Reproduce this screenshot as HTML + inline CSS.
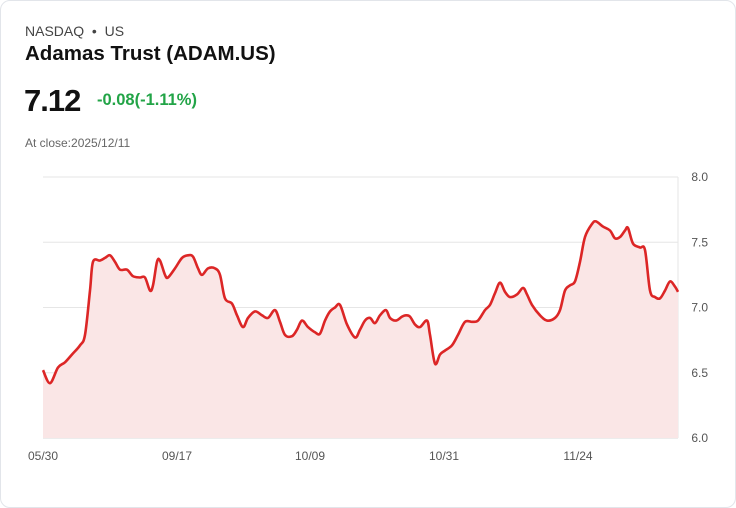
<!DOCTYPE html>
<html><head><meta charset="utf-8"><style>
body{margin:0;width:736px;height:508px;background:#fff;font-family:"Liberation Sans",sans-serif;}
.card{position:absolute;left:0;top:0;width:734px;height:506px;border:1px solid #e2e5ea;border-radius:10px;}
.t{position:absolute;white-space:nowrap;}
</style></head><body>
<div class="card"></div>
<div class="t" style="left:25px;top:23px;font-size:14px;color:#444;">NASDAQ &nbsp;•&nbsp; US</div>
<div class="t" style="left:25px;top:42px;font-size:20.5px;font-weight:bold;color:#111;">Adamas Trust (ADAM.US)</div>
<div class="t" style="left:24px;top:83px;font-size:31px;font-weight:bold;color:#111;letter-spacing:-1px;">7.12</div>
<div class="t" style="left:97px;top:91px;font-size:16.5px;font-weight:bold;color:#22a447;">-0.08(-1.11%)</div>
<div class="t" style="left:25px;top:136px;font-size:12px;color:#666;">At close:2025/12/11</div>
<svg id="chart" width="736" height="508" style="position:absolute;left:0;top:0"></svg>
<script>
const session=[0,1.4,3,4.4,5.8,7.4,8.4,9.4,10,11.4,12.4,13.4,14.4,15.4,16.8,18,19.4,20.4,21.4,22,22.8,23.4,24.4,25,26.4,27.8,29,30,31,31.8,33,34.4,35.4,36.4,37.8,38.8,40,41,42.4,43.8,45,46.4,47.4,48.4,49.8,50.8,51.8,53,54.4,55.4,56.4,57.4,58.4,59.4,60.8,62.4,63.4,64.4,65.4,66.4,67.4,68.6,69.4,70.6,71.8,72.6,73.4,74.4,75.4,76.8,77.4,78.4,79.4,80.4,81.8,83,84.4,85.8,87,88.4,89.4,90.4,91.4,92.4,93.4,94.8,96,96.8,97.8,99.4,100.8,102.4,103.4,104.4,105.4,106.4,107.4,108.4,109.8,110.6,112,113.4,114.4,115.4,116.4,117,118,119.4,120.4,121.4,122.4,123.4,124.4,125.4,126.4,127];
const prices=[6.52,6.42,6.54,6.58,6.64,6.71,6.79,7.13,7.35,7.36,7.38,7.40,7.35,7.29,7.29,7.24,7.23,7.23,7.13,7.17,7.35,7.36,7.25,7.23,7.30,7.38,7.40,7.39,7.30,7.25,7.30,7.30,7.25,7.07,7.03,6.94,6.85,6.92,6.97,6.94,6.92,6.98,6.89,6.79,6.78,6.83,6.90,6.85,6.81,6.80,6.90,6.97,7.00,7.02,6.87,6.77,6.83,6.90,6.92,6.88,6.94,6.98,6.92,6.90,6.93,6.94,6.93,6.87,6.85,6.90,6.79,6.57,6.64,6.67,6.71,6.79,6.89,6.89,6.90,6.98,7.02,7.11,7.19,7.12,7.08,7.10,7.15,7.10,7.02,6.94,6.90,6.92,6.98,7.13,7.17,7.20,7.35,7.54,7.64,7.66,7.62,7.59,7.53,7.54,7.59,7.61,7.49,7.46,7.44,7.13,7.08,7.07,7.13,7.20,7.16,7.12];
const yTicks=[6.0,6.5,7.0,7.5,8.0];
const xLabels=["05/30","09/17","10/09","10/31","11/24"];
const xLabelPos=[0,26.8,53.4,80.2,107];
const NS="http://www.w3.org/2000/svg",svg=document.getElementById('chart');
const X0=43,X1=678,Y0=438,Y1=177;
const sx=v=>X0+(v-0)/(127-0)*(X1-X0);
const sy=v=>Y0-(v-6)/(8-6)*(Y0-Y1);
function mk(t,a){const e=document.createElementNS(NS,t);for(const k in a)e.setAttribute(k,a[k]);svg.appendChild(e);return e;}
yTicks.forEach(v=>{
 const l=mk('line',{x1:X0,x2:X1,y1:sy(v),y2:sy(v),stroke:v===6?'#d8d8d8':'#e6e6e6','stroke-width':1});
 
 
 const t=mk('text',{x:708,y:sy(v)+4,'text-anchor':'end','font-size':12,fill:'#555','font-family':'Liberation Sans, sans-serif'});
 t.textContent=v.toFixed(1);
 
 
});
const ax=mk('line',{x1:X1,x2:X1,y1:Y1,y2:Y0,stroke:'#e6e6e6'});


xLabels.forEach((s,i)=>{
 const t=mk('text',{x:sx(xLabelPos[i]),y:460,'text-anchor':i===0?'start':'middle','font-size':12,fill:'#555','font-family':'Liberation Sans, sans-serif'});
 if(i===0)t.setAttribute('x',28);
 t.textContent=s;
 
 
});
const P=session.map((s,i)=>[sx(s),sy(prices[i])]);
let d=`M${P[0][0]},${P[0][1]}`;
for(let i=0;i<P.length-1;i++){
 const p0=P[i-1]||P[i],p1=P[i],p2=P[i+1],p3=P[i+2]||P[i+1];
 d+=` C${p1[0]+(p2[0]-p0[0])/6},${p1[1]+(p2[1]-p0[1])/6} ${p2[0]-(p3[0]-p1[0])/6},${p2[1]-(p3[1]-p1[1])/6} ${p2[0]},${p2[1]}`;
}
const area=mk('path',{d:d+` L${P[P.length-1][0]},${Y0} L${P[0][0]},${Y0} Z`,fill:'#fae6e6'});


const line=mk('path',{d:d,fill:'none',stroke:'#dc2626','stroke-width':2.6,'stroke-linejoin':'round'});


</script>
</body></html>
